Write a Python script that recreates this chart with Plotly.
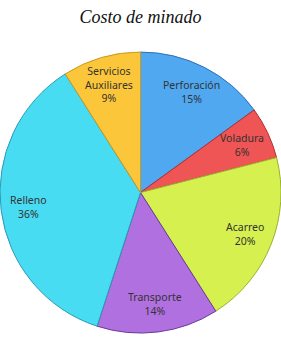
import math
import plotly.graph_objects as go

categories = ["Perforación", "Voladura", "Acarreo", "Transporte", "Relleno", "Servicios<br>Auxiliares"]
values = [15, 6, 20, 14, 36, 9]
colors = ["#4FA8F0", "#F05555", "#D6F04F", "#B070DF", "#48DCF2", "#FCC63A"]
edge_colors = ["#2F6FB8", "#B03030", "#9AB030", "#6A3A9A", "#2A9AB8", "#C89A20"]

W, H = 281, 346
dom_y = [0.032, 0.855]

fig = go.Figure(go.Pie(
    labels=categories,
    values=values,
    sort=False,
    direction="clockwise",
    rotation=0,
    marker=dict(colors=colors, line=dict(color=edge_colors, width=1)),
    textinfo="none",
    hoverinfo="label+percent",
    showlegend=False,
    domain=dict(x=[0, 1], y=dom_y),
))

# labels placed at the mid-angle of each slice (derived from the values)
total = sum(values)
r_px = min(W, (dom_y[1] - dom_y[0]) * H) / 2
cx, cy = 0.5, (dom_y[0] + dom_y[1]) / 2
frac = 0.8
cum = 0
for lab, v in zip(categories, values):
    mid = (cum + v / 2) / total * 2 * math.pi
    cum += v
    x = cx + frac * r_px * math.sin(mid) / W
    y = cy + frac * r_px * math.cos(mid) / H
    fig.add_annotation(
        x=x, y=y, xref="paper", yref="paper",
        text=f"{lab}<br>{round(v / total * 100)}%",
        showarrow=False, xanchor="center", yanchor="middle",
        font=dict(family="Noto Sans", size=10.5, color="#333333"),
    )

fig.update_layout(
    width=W, height=H,
    margin=dict(l=0, r=0, t=0, b=0),
    paper_bgcolor="white",
    title=dict(
        text="Costo de minado",
        font=dict(family="Liberation Serif", size=18, color="#111111", style="italic"),
        x=0.5, xanchor="center", xref="paper",
        y=1 - 17 / 346, yanchor="middle", yref="container",
    ),
)

fig.write_html("out.html")
